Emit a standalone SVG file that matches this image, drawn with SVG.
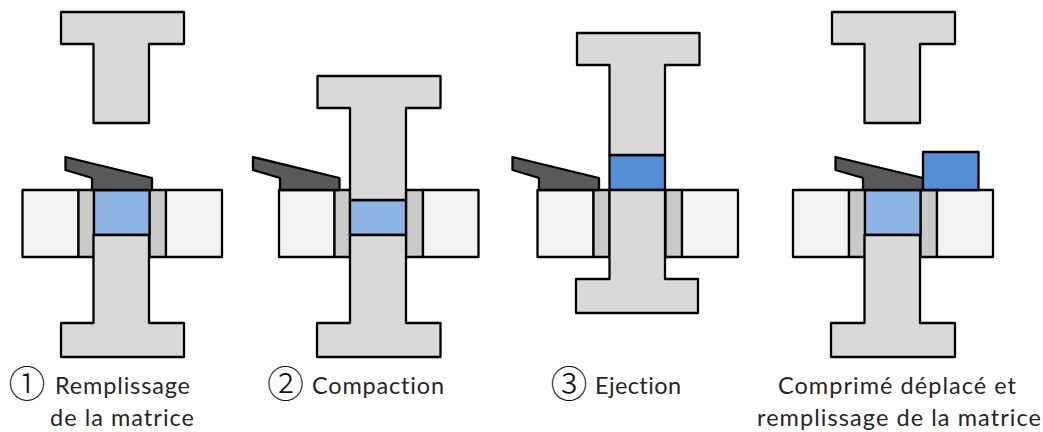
<svg xmlns="http://www.w3.org/2000/svg" width="1043" height="432" viewBox="0 0 1043 432">
<style>
.o{stroke:#000;stroke-width:2.3;stroke-linejoin:round}
.p{fill:#d9d9d9}.d{fill:#f2f2f2}.s{fill:#c9c9c9}.b{fill:#8eb4e3}.c{fill:#558ed5}.h{fill:#595959}
text{font-family:Lato,"Noto Sans",sans-serif;font-size:23.5px;fill:#262626;font-variant-ligatures:none}
.n{font-family:"Noto Sans CJK JP",sans-serif;font-size:37px;fill:#111;font-weight:300}
</style>
<rect width="1043" height="432" fill="#fff"/>
<g id="step1">
<rect class="o d" x="22.5" y="190" width="56" height="67"/><rect class="o s" x="78.500" y="190" width="15.500" height="67"/>
<rect class="o s" x="149.500" y="190" width="16.500" height="67"/><rect class="o d" x="166" y="190" width="56" height="67"/>
<rect class="o b" x="94" y="190" width="55.500" height="45"/>
<path class="o p" d="M61 12H184V44H149V123H93.500V44H61Z"/>
<path class="o p" d="M93.500 235H149V323H184V357H61V323H93.500Z"/>
<path class="o h" d="M65.500 157L152 178V190H92V178L65.500 170Z"/>
</g>
<g id="step2">
<rect class="o d" x="279" y="190" width="55.500" height="67"/><rect class="o s" x="334.500" y="190" width="15.500" height="67"/>
<rect class="o s" x="406" y="190" width="17" height="67"/><rect class="o d" x="423" y="190" width="55.500" height="67"/>
<rect class="o b" x="350" y="200" width="56" height="35"/>
<path class="o p" d="M317.500 76H440.500V108H406V200H350V108H317.500Z"/>
<path class="o p" d="M350 235H406V323H440.500V357H317V323H350Z"/>
<path class="o h" d="M253 157L339.500 178V190H280V178L253 170Z"/>
</g>
<g id="step3">
<rect class="o d" x="537.500" y="190" width="56" height="67"/><rect class="o s" x="593.500" y="190" width="16" height="67"/>
<rect class="o s" x="665.500" y="190" width="16.500" height="67"/><rect class="o d" x="682" y="190" width="56" height="67"/>
<path class="o c" d="M609.500 155H665V190H609.500Z"/>
<path class="o p" d="M577 33H699.500V65H665V155H609.500V65H577Z"/>
<path class="o p" d="M609.500 190H665V279H698V313H576V279H609.500Z"/>
<path class="o h" d="M512.500 157L599 178V190H539V178L512.500 170Z"/>
</g>
<g id="step4">
<rect class="o d" x="793" y="190" width="56" height="67"/><rect class="o s" x="849" y="190" width="16" height="67"/>
<rect class="o s" x="920.500" y="190" width="16.500" height="67"/><rect class="o d" x="937" y="190" width="56" height="67"/>
<rect class="o b" x="865" y="190" width="55.500" height="45"/>
<path class="o p" d="M832 12H955V44H920V123H864.500V44H832Z"/>
<path class="o p" d="M864.500 235H920V323H955V357H831V323H864.500Z"/>
<path class="o h" d="M835.500 157L923 178V190H863V178L835.500 170Z"/>
<rect class="o c" x="923" y="152" width="55.500" height="38"/>
</g>
<g id="labels">
<text class="n" x="8.500" y="398">①</text><text x="55" y="394" textLength="135">Remplissage</text><text x="50" y="426" textLength="144">de la matrice</text>
<text class="n" x="267" y="398">②</text><text x="312" y="394" textLength="132">Compaction</text>
<text class="n" x="550.500" y="398">③</text><text x="595" y="394" textLength="86">Ejection</text>
<text x="778" y="394" textLength="238">Comprimé déplacé et</text><text x="757" y="426" textLength="284">remplissage de la matrice</text>
</g>
</svg>
